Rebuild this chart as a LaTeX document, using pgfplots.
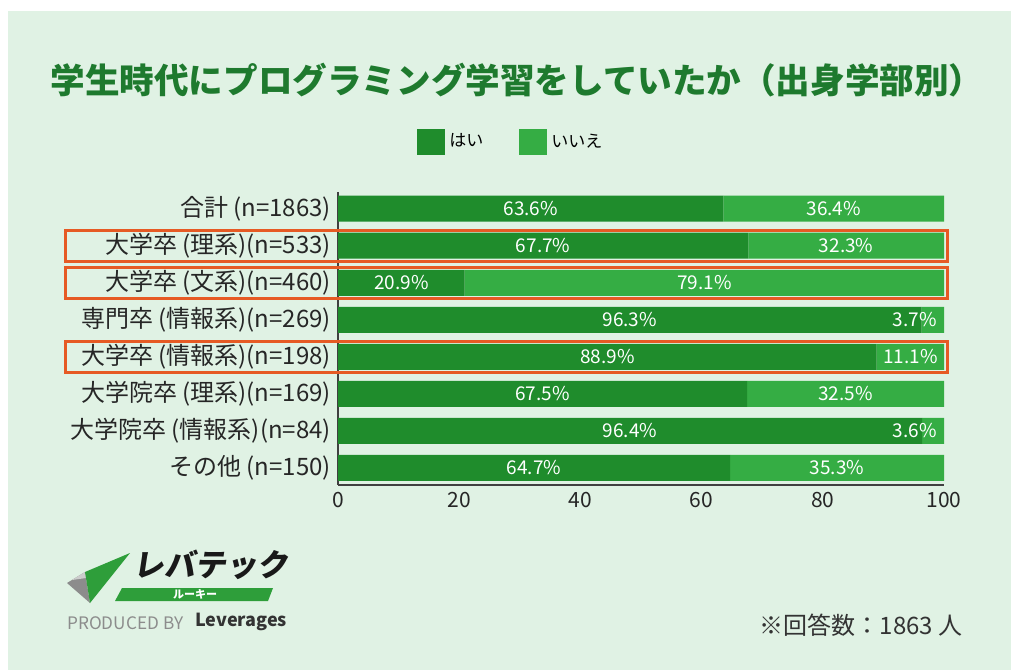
\documentclass[border=0pt]{standalone}
\usepackage{fontspec}
\setmainfont{Noto Sans CJK JP}
\newfontfamily\logofont[FakeSlant=0.15]{Noto Sans CJK JP}
\usepackage{pgfplots}
\pgfplotsset{compat=1.18}
\usepackage{pgfplotstable}
\definecolor{bg}{HTML}{E0F2E4}
\definecolor{yesc}{HTML}{1F8C2C}
\definecolor{noc}{HTML}{35AD44}
\definecolor{titlec}{HTML}{1E7A2E}
\definecolor{hl}{HTML}{E65A24}
\definecolor{logogreen}{HTML}{2E9E3A}

\pgfplotstableread{
cat yes no
0 63.6 36.4
1 67.7 32.3
2 20.9 79.1
3 96.3 3.7
4 88.9 11.1
5 67.5 32.5
6 96.4 3.6
7 64.7 35.3
}\datatable

\pgfplotsset{
  common/.style={
    at={(169pt,92.5pt)}, anchor=south west, scale only axis,
    width=303pt, height=146.5pt,
    xmin=0, xmax=100, ymin=-0.45, ymax=7.46, y dir=reverse,
  }
}

\begin{document}
\begin{tikzpicture}
\fill[white] (0,0) rectangle (505.5pt,335pt);
\fill[bg] (4pt,0) rectangle (505.5pt,329.5pt);
\node[text=titlec, font=\fontsize{17.3}{20}\selectfont\bfseries] at (258.5pt,295pt)
  {学生時代にプログラミング学習をしていたか（出身学部別）};

\begin{axis}[common,
  xbar stacked, bar width=13pt,
  ytick={0,...,7},
  yticklabels={合計 (n=1863),大学卒 (理系)(n=533),大学卒 (文系)(n=460),専門卒 (情報系)(n=269),大学卒 (情報系)(n=198),大学院卒 (理系)(n=169),大学院卒 (情報系)(n=84),その他 (n=150)},
  xtick={0,20,...,100},
  /pgf/number format/assume math mode=true,
  axis x line*=bottom, axis y line*=left,
  axis line style={-, draw=black!75, line width=0.8pt},
  major tick length=0pt,
  yticklabel style={font=\fontsize{12}{14}\selectfont, text=black!85},
  xticklabel style={font=\fontsize{10.5}{12}\selectfont, text=black!85},
  legend style={at={(0.287,1.171)}, anchor=center, draw=none, fill=none,
    legend columns=2, font=\fontsize{8.5}{10}\selectfont,
    /tikz/every even column/.append style={column sep=16pt}},
  legend image code/.code={\fill[#1] (0pt,-6.4pt) rectangle (14pt,6.4pt);},
]
\addplot[fill=yesc, draw=none] table[x=yes, y=cat]{\datatable};
\addplot[fill=noc, draw=none] table[x=no, y=cat]{\datatable};
\legend{はい,いいえ}
\end{axis}

\begin{axis}[common, hide axis, clip=false,
  /pgf/number format/assume math mode=true]
\addplot[draw=none, mark=none,
  nodes near coords={\pgfmathprintnumber[fixed,fixed zerofill,precision=1,assume math mode=true]{\pgfplotspointmeta}\%},
  point meta=\thisrow{yes},
  every node near coord/.append style={anchor=center, text=white, font=\fontsize{9.5}{11}\selectfont}]
  table[x expr=\thisrow{yes}/2, y=cat]{\datatable};
\addplot[draw=none, mark=none,
  nodes near coords={\pgfmathprintnumber[fixed,fixed zerofill,precision=1,assume math mode=true]{\pgfplotspointmeta}\%},
  point meta=\thisrow{no},
  every node near coord/.append style={anchor=center, text=white, font=\fontsize{9.5}{11}\selectfont}]
  table[x expr={min(\thisrow{yes}+\thisrow{no}/2,95.2)}, y=cat]{\datatable};
\draw[hl, line width=1.5pt] (axis cs:-44.9,0.58) rectangle (axis cs:100.5,1.42);
\draw[hl, line width=1.5pt] (axis cs:-44.9,1.58) rectangle (axis cs:100.5,2.42);
\draw[hl, line width=1.5pt] (axis cs:-44.9,3.58) rectangle (axis cs:100.5,4.42);
\end{axis}

% logo
\fill[black!45] (33.5pt,43.5pt) -- (42.5pt,49pt) -- (45pt,33.5pt) -- cycle;
\fill[black!20] (36pt,45pt) -- (42.5pt,49pt) -- (50pt,47pt) -- cycle;
\fill[logogreen] (42.5pt,49pt) -- (65pt,58.5pt) -- (45pt,33.5pt) -- cycle;
\node[font=\logofont\bfseries\fontsize{15.5}{17}\selectfont, text=black!90, anchor=west] at (63pt,52.5pt) {レバテック};
\fill[logogreen] (57.5pt,34.5pt) -- (134pt,34.5pt) -- (136.5pt,41pt) -- (61pt,41pt) -- cycle;
\node[font=\fontsize{5.5}{6}\selectfont\bfseries, text=white] at (97.5pt,37.7pt) {ルーキー};
\node[font=\fontsize{8.6}{10}\selectfont, text=black!45, anchor=west, inner sep=0pt] at (33.5pt,23.5pt) {PRODUCED BY};
\node[font=\fontsize{9}{10}\selectfont\bfseries, text=black!80, anchor=west, inner sep=0pt] at (97.5pt,23.8pt) {Leverages};

\node[font=\fontsize{12}{14}\selectfont, text=black!80, anchor=east, inner sep=0pt] at (481.5pt,22.5pt) {※回答数：1863 人};
\end{tikzpicture}
\end{document}
